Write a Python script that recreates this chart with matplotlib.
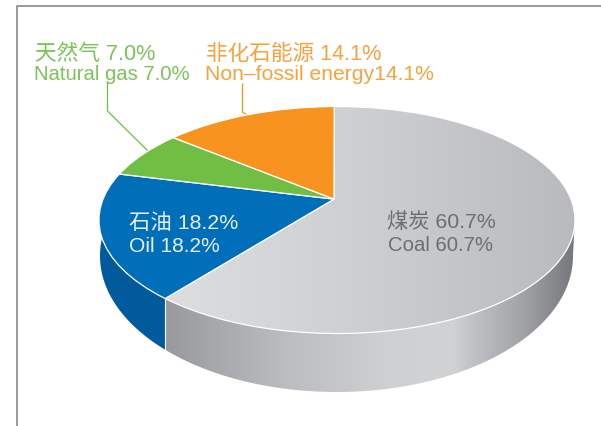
import numpy as np
import matplotlib
matplotlib.use("Agg")
import matplotlib.pyplot as plt
from matplotlib.colors import LinearSegmentedColormap
from matplotlib.patches import Polygon
from matplotlib.transforms import Transform

# shares of primary energy, clockwise from the top of the pie
names_cn = ["煤炭", "石油", "天然气", "非化石能源"]
names_en = ["Coal", "Oil", "Natural gas", "Non–fossil energy"]
shares = [60.7, 18.2, 7.0, 14.1]
colors = ["#cfd0d2", "#006eb8", "#70bf44", "#f7931e"]

FONT = ["Liberation Sans", "Noto Sans CJK SC"]
GREEN_TXT = "#7cc457"
ORANGE_TXT = "#f9a13a"
GRAY_TXT = "#6d6e71"


class DiscProjection(Transform):
    # unit circle -> tilted ellipse, the centre of the disc moves to (bx, a) (perspective)
    input_dims = 2
    output_dims = 2

    def __init__(self, cx, cy, rx, ry, bx, a):
        super().__init__()
        self.cx, self.cy, self.rx, self.ry = cx, cy, rx, ry
        self.a = np.hypot(bx, a)
        self.phi = np.arctan2(bx, a)

    def transform_non_affine(self, values):
        values = np.asarray(values)
        c, s = np.cos(self.phi), np.sin(self.phi)
        x = c * values[:, 0] - s * values[:, 1]
        y = s * values[:, 0] + c * values[:, 1]
        d = 1 + self.a * y
        xp = x * np.sqrt(1 - self.a ** 2) / d
        yp = (y + self.a) / d
        xr = c * xp + s * yp
        yr = -s * xp + c * yp
        return np.column_stack([self.cx + self.rx * xr, self.cy - self.ry * yr])


top_face = DiscProjection(337, 221, 238, 113.5, -0.0126, 0.184)
bottom_face = DiscProjection(336.5, 257, 236.5, 136, -0.0126, 0.184)


def rim(theta):
    # theta in degrees clockwise from the top
    t = np.radians(theta)
    return np.column_stack([np.sin(t), np.cos(t)])


def side_polygon(t0, t1):
    th = np.linspace(t0, t1, 120)
    upper = top_face.transform(rim(th))
    lower = bottom_face.transform(rim(th))
    return np.vstack([upper, lower[::-1]])


fig = plt.figure(figsize=(6.01, 4.27), dpi=100)
ax = fig.add_axes([0, 0, 1, 1])

wedges, _ = ax.pie(shares, colors=colors, startangle=90, counterclock=False,
                   wedgeprops=dict(edgecolor="white", linewidth=0.9))
ax.set_aspect("auto")
ax.set_xlim(0, 601)
ax.set_ylim(427, 0)
ax.axis("off")
for w in wedges:
    w.set_transform(top_face + ax.transData)
    w.set_zorder(4)
    w.set_clip_on(False)

# side of the pie
edges = np.cumsum(shares) / np.sum(shares) * 360
right_end = 96.0
left_end = 276.0

oil_side = Polygon(side_polygon(edges[0], left_end + 3), closed=True, facecolor="#005a9c",
                   edgecolor="none", zorder=2)
ax.add_patch(oil_side)

coal_side = Polygon(side_polygon(right_end + 4, edges[0]), closed=True, facecolor="none",
                    edgecolor="none", zorder=2)
ax.add_patch(coal_side)
side_cmap = LinearSegmentedColormap.from_list("side", [
    (0.00, "#98999d"), (0.30, "#bcbdc0"), (0.55, "#cfd0d2"), (0.70, "#d1d2d4"),
    (0.76, "#bfc0c3"), (0.88, "#a0a1a5"), (1.00, "#76777a")])
side_img = ax.imshow(np.linspace(0, 1, 256)[None, :], cmap=side_cmap, aspect="auto",
                     extent=[164, 575, 393, 200], zorder=2)
side_img.set_clip_path(coal_side)

# light line down the seam
seam = top_face.transform(rim(np.array([edges[0]])))[0]
seam_low = bottom_face.transform(rim(np.array([edges[0]])))[0]
ax.plot([seam[0], seam[0]], [seam[1], seam_low[1]], color="white", lw=0.8, zorder=3)

# the coal slice has a soft gradient
top_cmap = LinearSegmentedColormap.from_list("top", ["#dddedf", "#cdced0", "#b9babd"])
top_img = ax.imshow(np.linspace(0, 1, 256)[None, :], cmap=top_cmap, aspect="auto",
                    extent=[164, 575, 340, 105], zorder=3)
top_img.set_clip_path(wedges[0])
wedges[0].set_facecolor("none")
ax.set_xlim(0, 601)
ax.set_ylim(427, 0)

# frame of the page
ax.plot([17, 17, 601], [427, 6.5, 6.5], color="#7f7f7f", lw=1.1, zorder=1, clip_on=False)

# leader lines
ax.plot([107.5, 107.5, 148], [84, 112, 152], color="#70bf44", lw=0.9, zorder=1)
ax.plot([242.5, 242.5, 247], [85, 113, 116], color="#f7931e", lw=0.9, zorder=1)


def label(x, y, s, color, size, ha="left"):
    ax.text(x, y, s, color=color, fontsize=size, ha=ha, va="baseline", family=FONT, zorder=6)


label(35, 60, f"{names_cn[2]} {shares[2]:.1f}%", GREEN_TXT, 15.6)
label(34, 79.5, f"{names_en[2]} {shares[2]:.1f}%", GREEN_TXT, 14.6)
label(206, 60, f"{names_cn[3]} {shares[3]:.1f}%", ORANGE_TXT, 15.6)
label(205, 79.5, f"{names_en[3]}{shares[3]:.1f}%", ORANGE_TXT, 15.25)
label(129, 229, f"{names_cn[1]} {shares[1]:.1f}%", "#e4eff8", 15.4)
label(129, 252, f"{names_en[1]} {shares[1]:.1f}%", "#e4eff8", 15.1)
label(441, 228, f"{names_cn[0]} {shares[0]:.1f}%", GRAY_TXT, 15.3, ha="center")
label(441, 251, f"{names_en[0]} {shares[0]:.1f}%", GRAY_TXT, 14.7, ha="center")

fig.savefig("out.png", dpi=100)
